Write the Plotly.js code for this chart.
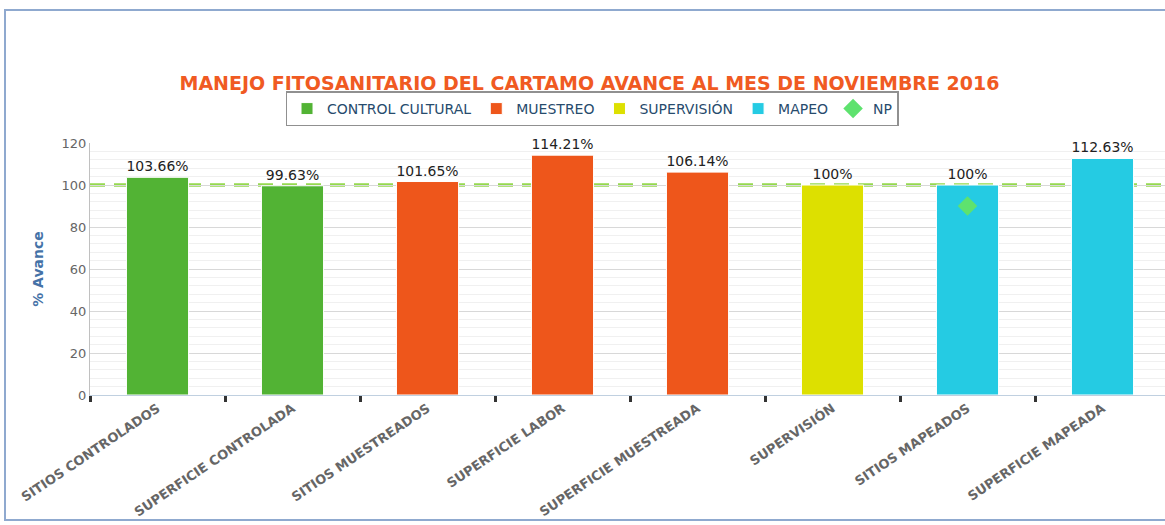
<!DOCTYPE html>
<html><head><meta charset="utf-8">
<script src="https://cdn.plot.ly/plotly-3.0.1.min.js"></script>
<style>html,body{margin:0;padding:0;background:#fff}#chart{width:1165px;height:525px}</style>
</head><body><div id="chart"></div>
<script>
const categories = ["SITIOS CONTROLADOS","SUPERFICIE CONTROLADA","SITIOS MUESTREADOS","SUPERFICIE LABOR","SUPERFICIE MUESTREADA","SUPERVISIÓN","SITIOS MAPEADOS","SUPERFICIE MAPEADA"];
const controlCulturalX = ["SITIOS CONTROLADOS","SUPERFICIE CONTROLADA"];
const controlCulturalY = [103.66, 99.63];
const muestreoX = ["SITIOS MUESTREADOS","SUPERFICIE LABOR","SUPERFICIE MUESTREADA"];
const muestreoY = [101.65, 114.21, 106.14];
const supervisionX = ["SUPERVISIÓN"];
const supervisionY = [100];
const mapeoX = ["SITIOS MAPEADOS","SUPERFICIE MAPEADA"];
const mapeoY = [100, 112.63];
const npX = ["SITIOS MAPEADOS"];
const npY = [90];
const metaValue = 100;
const yTicks = [0,20,40,60,80,100,120];

const barCommon = {
  type: 'bar', width: 0.46, textposition: 'outside', texttemplate: '%{y}%',
  textfont: {family: 'DejaVu Sans', size: 14, color: '#222'}, cliponaxis: false,
  hoverinfo: 'x+y'
};
const data = [
  Object.assign({}, barCommon, {name: 'CONTROL CULTURAL', x: controlCulturalX, y: controlCulturalY, marker: {color: '#52b334', line: {color: '#fff', width: 1}}}),
  Object.assign({}, barCommon, {name: 'MUESTREO', x: muestreoX, y: muestreoY, marker: {color: '#ee561b', line: {color: '#fff', width: 1}}}),
  Object.assign({}, barCommon, {name: 'SUPERVISIÓN', x: supervisionX, y: supervisionY, marker: {color: '#dde000', line: {color: '#fff', width: 1}}}),
  Object.assign({}, barCommon, {name: 'MAPEO', x: mapeoX, y: mapeoY, marker: {color: '#25cbe3', line: {color: '#fff', width: 1}}}),
  {type: 'scatter', mode: 'markers', name: 'NP', x: npX, y: npY,
   marker: {symbol: 'diamond', size: 15, color: '#5ee26e'}}
];

const layout = {
  width: 1165, height: 525,
  margin: {l: 90, r: 0, t: 143, b: 130},
  paper_bgcolor: '#fff', plot_bgcolor: '#fff',
  font: {family: 'DejaVu Sans', color: '#666'},
  barmode: 'overlay',
  showlegend: true,
  title: {text: '<b>MANEJO FITOSANITARIO DEL CARTAMO AVANCE AL MES DE NOVIEMBRE 2016</b>',
    font: {family: 'DejaVu Sans', size: 19, color: '#f05a22'},
    xref: 'container', yref: 'container', x: 0.506, xanchor: 'center', y: 1 - 83/525, yanchor: 'middle'},
  legend: {orientation: 'h', x: 0.467, xanchor: 'center', y: 1.135, yanchor: 'middle',
    bgcolor: '#fff', bordercolor: '#909090', borderwidth: 1.5,
    font: {family: 'DejaVu Sans', size: 14, color: '#274b6d'}, traceorder: 'normal', itemwidth: 30},
  xaxis: {type: 'category', categoryorder: 'array', categoryarray: categories,
    range: [-0.5, 7.5 - 5/135], tickson: 'boundaries', ticks: 'outside', ticklen: 6, tickwidth: 3, tickcolor: '#333',
    showline: true, linecolor: '#c0d0e0', linewidth: 1, showgrid: false, tickangle: -34,
    tickfont: {family: 'DejaVu Sans', size: 13, color: '#666', weight: 'bold'}},
  yaxis: {range: [0, 120], tickvals: yTicks, ticks: '', showline: true, linecolor: '#c0c0c0', linewidth: 1,
    gridcolor: '#d8d8d8', gridwidth: 1, zeroline: false,
    minor: {dtick: 4, showgrid: true, gridcolor: '#f0f0f0', gridwidth: 1},
    tickfont: {family: 'DejaVu Sans', size: 13, color: '#666'},
    title: {text: '<b>% Avance</b>', font: {family: 'DejaVu Sans', size: 14, color: '#4572a7'}, standoff: 14}},
  shapes: [
    {type: 'line', xref: 'paper', yref: 'y', x0: 0, x1: 1, y0: metaValue, y1: metaValue,
     line: {color: '#95d94f', width: 3.5, dash: '15px,9px'}, layer: 'below'},
    {type: 'rect', xref: 'paper', yref: 'paper', x0: (5-90)/1075, x1: 1.01, y0: (395-520)/252, y1: (395-10)/252,
     line: {color: '#8fa9cf', width: 2}, fillcolor: 'rgba(0,0,0,0)', layer: 'below'}
  ]
};
Plotly.newPlot('chart', data, layout, {displayModeBar: false});
</script></body></html>
